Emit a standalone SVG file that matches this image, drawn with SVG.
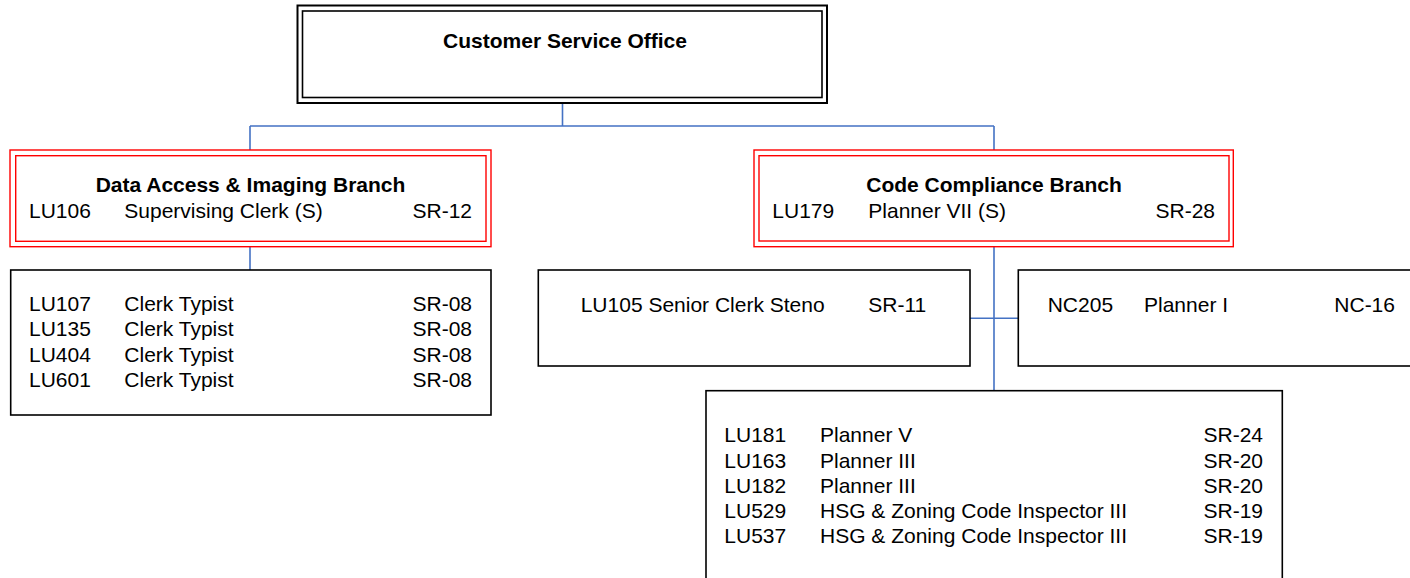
<svg xmlns="http://www.w3.org/2000/svg" width="1410" height="578" viewBox="0 0 1410 578">
<style>
text{font-family:"Liberation Sans",Arial,sans-serif;font-size:21px;fill:#000}
.b{font-weight:bold}
.e{text-anchor:end}
.m{text-anchor:middle}
.box{fill:#fff;stroke:#000;stroke-width:1.6}
.red{fill:none;stroke:#ff0000;stroke-width:1.4}
.blk{fill:none;stroke:#000;stroke-width:1.6}
.conn{fill:none;stroke:#4472c4;stroke-width:1.6}
</style>
<rect width="1410" height="578" fill="#fff"/>
<g id="connectors">
<path class="conn" d="M562.5 103V126M250 126H994M250 126V150M994 126V150"/>
<path class="conn" d="M250 247V270"/>
<path class="conn" d="M994 247V391M970 318.3H1018"/>
</g>
<g id="customer-service-office">
<rect x="297.5" y="5.5" width="529.5" height="97.5" fill="#fff" stroke="#000" stroke-width="2"/>
<rect class="blk" x="302.5" y="11" width="519.5" height="86.5" stroke-width="1.4"/>
<text class="b m" x="565" y="48">Customer Service Office</text>
</g>
<g id="data-access-branch">
<rect x="10" y="150" width="481" height="96.7" fill="#fff" stroke="#ff0000" stroke-width="1.4"/>
<rect class="red" x="15.7" y="155.7" width="470.3" height="85.6"/>
<text class="b m" x="250.5" y="192">Data Access &amp; Imaging Branch</text>
<text x="29" y="218">LU106</text>
<text x="124.3" y="218">Supervising Clerk (S)</text>
<text class="e" x="472" y="218">SR-12</text>
</g>
<g id="clerk-typists">
<rect class="box" x="10.7" y="270" width="480.3" height="145"/>
<text x="29" y="310.7">LU107</text><text x="124.3" y="310.7">Clerk Typist</text><text class="e" x="472" y="310.7">SR-08</text>
<text x="29" y="336">LU135</text><text x="124.3" y="336">Clerk Typist</text><text class="e" x="472" y="336">SR-08</text>
<text x="29" y="361.5">LU404</text><text x="124.3" y="361.5">Clerk Typist</text><text class="e" x="472" y="361.5">SR-08</text>
<text x="29" y="386.8">LU601</text><text x="124.3" y="386.8">Clerk Typist</text><text class="e" x="472" y="386.8">SR-08</text>
</g>
<g id="code-compliance-branch">
<rect x="754" y="150" width="479.3" height="96.7" fill="#fff" stroke="#ff0000" stroke-width="1.4"/>
<rect class="red" x="759" y="155.7" width="470" height="85.3"/>
<text class="b m" x="994" y="192">Code Compliance Branch</text>
<text x="772.3" y="218">LU179</text>
<text x="868.3" y="218">Planner VII (S)</text>
<text class="e" x="1215" y="218">SR-28</text>
</g>
<g id="senior-clerk-steno">
<rect class="box" x="538.3" y="270" width="431.7" height="96"/>
<text x="580.7" y="312.3">LU105 Senior Clerk Steno</text>
<text x="868.3" y="312.3">SR-11</text>
</g>
<g id="planner-i">
<rect class="box" x="1018.3" y="270" width="420" height="96"/>
<text x="1047.7" y="312.3">NC205</text>
<text x="1144" y="312.3">Planner I</text>
<text x="1334.3" y="312.3">NC-16</text>
</g>
<g id="planners-inspectors">
<rect class="box" x="706" y="390.7" width="576.3" height="220"/>
<text x="724.3" y="442.3">LU181</text><text x="820" y="442.3">Planner V</text><text class="e" x="1263" y="442.3">SR-24</text>
<text x="724.3" y="467.5">LU163</text><text x="820" y="467.5">Planner III</text><text class="e" x="1263" y="467.5">SR-20</text>
<text x="724.3" y="492.7">LU182</text><text x="820" y="492.7">Planner III</text><text class="e" x="1263" y="492.7">SR-20</text>
<text x="724.3" y="518">LU529</text><text x="820" y="518">HSG &amp; Zoning Code Inspector III</text><text class="e" x="1263" y="518">SR-19</text>
<text x="724.3" y="543.3">LU537</text><text x="820" y="543.3">HSG &amp; Zoning Code Inspector III</text><text class="e" x="1263" y="543.3">SR-19</text>
</g>
</svg>
